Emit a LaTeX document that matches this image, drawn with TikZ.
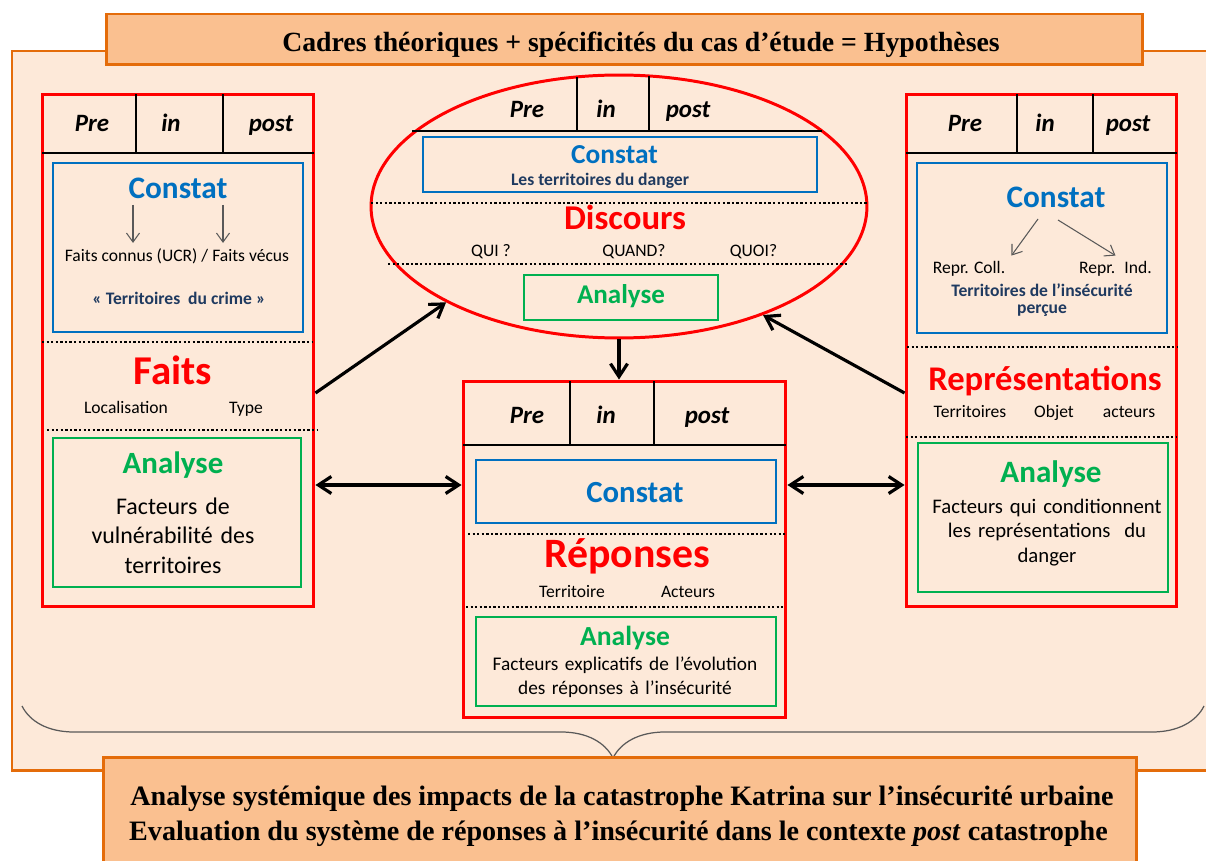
\documentclass[tikz,border=0pt]{standalone}
\usepackage{fontspec}
\setmainfont{Carlito}
\newfontfamily\tnr{Liberation Serif}
\usepackage{tikz}
\usetikzlibrary{arrows.meta,positioning}
\usetikzlibrary{shapes.geometric}
\usetikzlibrary{decorations.pathreplacing}
\definecolor{fondo}{HTML}{FDE9D9}
\definecolor{bandeau}{HTML}{FAC090}
\definecolor{corange}{HTML}{E46C0A}
\definecolor{cbleu}{HTML}{0070C0}
\definecolor{cvert}{HTML}{00B050}
\definecolor{cmarine}{HTML}{1F3A60}
\definecolor{cgris}{HTML}{595959}
\tikzset{
	constat/.style={anchor=base,text=cbleu,font=\fontsize{#1}{#1}\selectfont\bfseries},
	titre/.style={anchor=base,text=red,font=\fontsize{#1}{#1}\selectfont\bfseries},
	analyse/.style={anchor=base,text=cvert,font=\fontsize{#1}{#1}\selectfont\bfseries}
}

\begin{document}
\begin{tikzpicture}
		[x=0.02cm,y=-0.02cm,
		cadre/.style={draw=red,line width=1.7pt,inner sep=0pt},
		bleu/.style={draw=cbleu,line width=1.4pt,inner sep=0pt},
		vert/.style={draw=cvert,line width=1.4pt,inner sep=0pt},
		trait/.style={line width=1.2pt},
		pointille/.style={line width=1.3pt,dash pattern=on 1.3pt off 1.3pt},
		pip/.style={anchor=base,font=\fontsize{14.2}{17}\selectfont\bfseries\itshape},
		petit/.style={anchor=base,font=\fontsize{10}{12}\selectfont},
		marine/.style={anchor=base,align=center,text=cmarine,font=\fontsize{10}{10.2}\selectfont\bfseries},
		fleche/.style={line width=1.8pt,-{Straight Barb[length=2.6mm,width=3.4mm]}},
		fleches/.style={line width=1.8pt,{Straight Barb[length=2.6mm,width=3.4mm]}-{Straight Barb[length=2.6mm,width=3.4mm]}},
		fine/.style={draw=cgris,line width=0.6pt,-{Straight Barb[length=1.8mm,width=2.6mm]}},
		accolade/.style={draw=cgris,line width=0.7pt,decorate,decoration={brace,mirror,amplitude=1.04cm}}]
		
		\clip (0,0) rectangle (1206,861);
		\draw[fill=fondo,draw=corange,line width=1.7pt] (12,51) rectangle (1215,770);
		
		\node[draw=corange,fill=bandeau,line width=1.7pt,minimum width=20.74cm,minimum height=1.02cm] (haut) at (624.5,39.5) {};
		\node[anchor=base,font=\fontsize{15.8}{18}\selectfont\tnr\bfseries] (hautt) at (641,52) {Cadres théoriques + spécificités du cas d’étude = Hypothèses};
		
		% faits
		\node[cadre,minimum width=5.44cm,minimum height=10.26cm] (lp) at (178,350.5) {};
		\draw[trait] (42,153) -- (314,153);
		\foreach \x in {136,223} \draw[trait] (\x,94) -- (\x,153);
		\foreach \x/\t in {92/Pre,171/in,271/post} \node[pip] (l\t) at (\x,132) {\t};
		\node[bleu,minimum width=5cm,minimum height=3.38cm] (lc) at (178,247.5) {};
		\node[constat=17.8] (lct) at (178,199) {Constat};
		\node[petit] (lfc) at (177,262) {Faits connus (UCR) / Faits vécus};
		\node[marine] (lter) at (179,305) {« Territoires~ du crime »};
		\coordinate (la1) at (133,205);
		\coordinate (la2) at (223,205);
		\draw[fine] (la1) to (la1 |- lfc.north);
		\draw[fine] (la2) to (la2 |- lfc.north);
		\draw[pointille] (42,342) -- (313,342);
		\node[titre=23.3] (faits) at (173,384) {Faits};
		\node[petit] (lloc) at (126,413) {Localisation};
		\node[petit] (ltyp) at (246,413) {Type};
		\draw[pointille] (47,430) -- (317,430);
		\node[vert,minimum width=4.96cm,minimum height=2.98cm] (la) at (177,512.5) {};
		\node[analyse=17.6] (lat) at (173,473) {Analyse};
		\node[anchor=base,align=center,text width=4.6cm,font=\fontsize{13.6}{17}\selectfont] (lcorps) at (173,514) {Facteurs de\\vulnérabilité des\\territoires};
		
		% discours
		\node[ellipse,draw=red,line width=1.7pt,minimum width=9.92cm,minimum height=5.26cm,inner sep=0pt] (disc) at (619,206.5) {};
		\draw[trait] (412,131) -- (822,131);
		\draw[trait] (577,77) -- (577,131);
		\draw[trait] (649,76) -- (649,131);
		\foreach \x/\t in {527/Pre,606/in,688/post} \node[pip] (e\t) at (\x,118) {\t};
		\node[bleu,minimum width=7.88cm,minimum height=1.1cm] (ec) at (620,164.5) {};
		\node[constat=15.6] (ect) at (614.5,164) {Constat};
		\node[marine] (eter) at (600,186) {Les territoires du danger};
		\draw[pointille] (371,203) -- (867,203);
		\node[titre=19.8] (discours) at (625,230) {Discours};
		\foreach \x/\t/\n in {491/QUI ?/qui,634/QUAND?/quand,753.5/QUOI?/quoi} \node[petit] (e\n) at (\x,257) {\t};
		\draw[pointille] (388,264) -- (848,264);
		\node[vert,minimum width=3.88cm,minimum height=0.9cm] (ea) at (621,297.5) {};
		\node[analyse=15.4] (eat) at (621,304) {Analyse};
		
		% representations
		\node[cadre,minimum width=5.42cm,minimum height=10.26cm] (rp) at (1041.5,350.5) {};
		\draw[trait] (906,153) -- (1177,153);
		\foreach \x in {1017,1093} \draw[trait] (\x,94) -- (\x,153);
		\foreach \x/\t in {965/Pre,1045/in,1128/post} \node[pip] (r\t) at (\x,132) {\t};
		\node[bleu,minimum width=5cm,minimum height=3.4cm] (rc) at (1042,248) {};
		\node[constat=17.8] (rct) at (1056,208) {Constat};
		\node[petit] (rcoll) at (969,274) {Repr. Coll.};
		\node[petit] (rind) at (1115.5,274) {Repr.~ Ind.};
		\draw[fine] (1038,219) to (rcoll.north east);
		\draw[fine] (1058,220) to (rind.north);
		\node[marine] (rter) at (1042,314) {Territoires de l’insécurité\\perçue};
		\draw[pointille] (907,347) -- (1177,347);
		\node[titre=19.7] (repr) at (1045,390) {Représentations};
		\foreach \x/\t/\n in {970/Territoires/ter,1054/Objet/obj,1129/acteurs/act} \node[petit] (r\n) at (\x,417) {\t};
		\draw[pointille] (906,437) -- (1177,437);
		\node[vert,minimum width=5cm,minimum height=2.98cm] (ra) at (1043,517.5) {};
		\node[analyse=17.7] (rat) at (1051,482) {Analyse};
		\node[anchor=base,align=center,text width=4.8cm,font=\fontsize{11.8}{14.2}\selectfont] (rcorps) at (1047,513) {Facteurs qui conditionnent\\les représentations~ du\\danger};
		
		% reponses
		\node[cadre,minimum width=6.46cm,minimum height=6.74cm] (cp) at (624.5,549.5) {};
		\draw[trait] (463,445) -- (786,445);
		\foreach \x in {570,654} \draw[trait] (\x,381) -- (\x,445);
		\foreach \x/\t in {527/Pre,606/in,707/post} \node[pip] (c\t) at (\x,423) {\t};
		\node[bleu,minimum width=6cm,minimum height=1.26cm] (cc) at (626,491.5) {};
		\node[constat=17.5] (cct) at (635,502) {Constat};
		\draw[pointille] (468,534) -- (787,534);
		\node[titre=23.8] (rep) at (627,567) {Réponses};
		\node[petit] (cter) at (572,597) {Territoire};
		\node[petit] (cact) at (688,597) {Acteurs};
		\draw[pointille] (466,607) -- (784,607);
		\node[vert,minimum width=6cm,minimum height=1.78cm] (ca) at (626,661.5) {};
		\node[analyse=15.7] (cat) at (625,645) {Analyse};
		\node[anchor=base,align=center,text width=5.9cm,font=\fontsize{11}{14.2}\selectfont] (ccorps) at (625,670) {Facteurs explicatifs de l’évolution\\des réponses à l’insécurité};
		
		\coordinate (haut1) at (0,393);
		\coordinate (mil) at (0,485);
		\draw[fleche] (lp.east |- haut1) to (disc.209);
		\draw[fleche] (rp.west |- haut1) to (disc.323);
		\draw[fleche] (disc.south) to (disc.south |- cp.north);
		\draw[fleches] (lp.east |- mil) to (cp.west |- mil);
		\draw[fleches] (cp.east |- mil) to (rp.west |- mil);
		
		\coordinate (acg) at (22,706);
		\coordinate (acd) at (1204,706);
		\draw[accolade] (acg) -- (acd);
		
		\node[draw=corange,fill=bandeau,line width=1.7pt,minimum width=20.68cm,minimum height=2.36cm] (bas) at (620,816) {};
		\node[anchor=base,font=\fontsize{16}{19}\selectfont\tnr\bfseries] (bas1) at (622,805) {Analyse systémique des impacts de la catastrophe Katrina sur l’insécurité urbaine};
		\node[anchor=base,font=\fontsize{16}{19}\selectfont\tnr\bfseries] (bas2) at (618.5,840) {Evaluation du système de réponses à l’insécurité dans le contexte \textit{post} catastrophe};
		\end{tikzpicture}
\end{document}
